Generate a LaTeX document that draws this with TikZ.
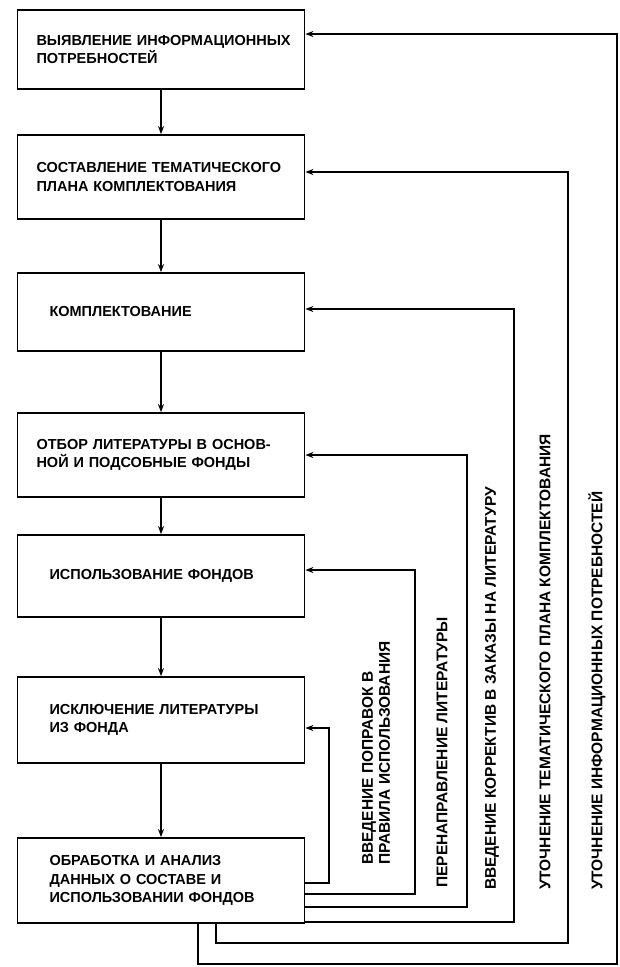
\documentclass[tikz,border=0pt]{standalone}
\usepackage{fontspec}
\setmainfont{Liberation Sans}
\usetikzlibrary{arrows.meta}
\begin{document}
\begin{tikzpicture}[x=1pt,y=-1pt,
	stage/.style={draw,line width=1.8pt,minimum width=287pt,minimum height=82pt,
		inner xsep=19pt,text width=249pt,align=left,
		font=\fontsize{14.5}{18.5}\selectfont\bfseries},
	stage in/.style={stage,inner xsep=32pt,text width=223pt},
	link/.style={line width=1.5pt,-{Stealth[length=8pt,width=6pt]}},
	back/.style={line width=1.5pt,-{Stealth[length=8pt,width=6pt]}},
	note/.style={rotate=90,anchor=west,align=left,inner sep=0pt,
		font=\fontsize{15.5}{17}\selectfont\bfseries}]
\useasboundingbox (0,0) rectangle (620,967);
\node[stage,minimum height=79pt] (b1) at (161,49.5) {ВЫЯВЛЕНИЕ~ИНФОРМАЦИОННЫХ\\ПОТРЕБНОСТЕЙ};
\node[stage,minimum height=84pt] (b2) at (161,177) {СОСТАВЛЕНИЕ ТЕМАТИЧЕСКОГО\\ПЛАНА КОМПЛЕКТОВАНИЯ};
\node[stage in,minimum height=78pt] (b3) at (161,312) {КОМПЛЕКТОВАНИЕ};
\node[stage,minimum height=84pt] (b4) at (161,455) {ОТБОР ЛИТЕРАТУРЫ В ОСНОВ-\\НОЙ И ПОДСОБНЫЕ ФОНДЫ};
\node[stage in] (b5) at (161,576) {ИСПОЛЬЗОВАНИЕ ФОНДОВ};
\node[stage in,minimum height=86pt] (b6) at (161,720) {ИСКЛЮЧЕНИЕ ЛИТЕРАТУРЫ\\ИЗ ФОНДА};
\node[stage in,minimum height=85pt] (b7) at (161,880.5) {ОБРАБОТКА И АНАЛИЗ\\ДАННЫХ О СОСТАВЕ И\\ИСПОЛЬЗОВАНИИ ФОНДОВ};
% main flow
\foreach \a/\b in {b1/b2,b2/b3,b3/b4,b4/b5,b5/b6,b6/b7}
	\draw[link] (\a) -- (\b);
% feedback
\draw[back] (b7.east |- 0,883) -| (329,728) -- (b6.east |- 0,728);
\draw[back] (b7.east |- 0,894) -| (415,570) -- (b5.east |- 0,570);
\draw[back] (b7.east |- 0,907) -| (467,455) -- (b4.east |- 0,455);
\draw[back] (b7.east |- 0,922) -| (514,309) -- (b3.east |- 0,309);
\draw[back] (b7.south -| 216,0) |- (568,943) -- (568,172) -- (b2.east |- 0,172);
\draw[back] (b7.south -| 198,0) |- (617,964) -- (617,34) -- (b1.east |- 0,34);
\node[note] (n6) at (376,865) {ВВЕДЕНИЕ ПОПРАВОК В\\ПРАВИЛА ИСПОЛЬЗОВАНИЯ};
\node[note] (n5) at (442,888) {ПЕРЕНАПРАВЛЕНИЕ ЛИТЕРАТУРЫ};
\node[note] (n4) at (492,890) {ВВЕДЕНИЕ КОРРЕКТИВ В ЗАКАЗЫ НА ЛИТЕРАТУРУ};
\node[note] (n3) at (545,890) {УТОЧНЕНИЕ ТЕМАТИЧЕСКОГО ПЛАНА КОМПЛЕКТОВАНИЯ};
\node[note] (n2) at (597,890) {УТОЧНЕНИЕ ИНФОРМАЦИОННЫХ ПОТРЕБНОСТЕЙ};
\end{tikzpicture}
\end{document}
